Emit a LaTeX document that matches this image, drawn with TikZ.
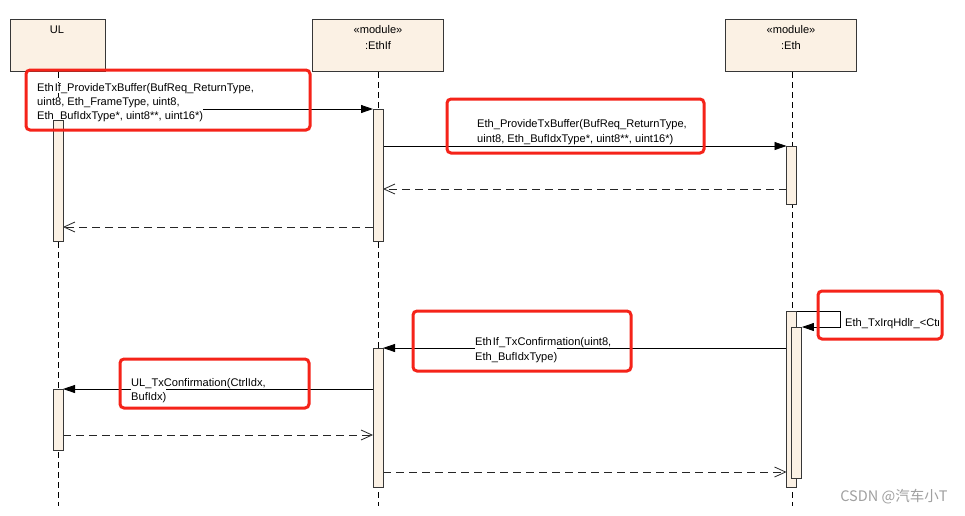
\documentclass[tikz,border=0pt]{standalone}
\usepackage{fontspec}
\setmainfont{Liberation Sans}
\newfontfamily\cjk{Noto Sans CJK SC}
\usetikzlibrary{arrows.meta}
\definecolor{headfill}{RGB}{251,241,228}
\definecolor{bordergrey}{RGB}{55,55,55}
\definecolor{annot}{RGB}{245,35,25}
\definecolor{wm}{RGB}{160,160,160}
\begin{document}
\begin{tikzpicture}[x=1pt,y=-1pt,
  every node/.style={font=\fontsize{11.1}{14}\selectfont},
  headbox/.style={draw=bordergrey,line width=1.3pt,fill=headfill,minimum height=52pt,anchor=north west,inner sep=0pt},
  act/.style={draw=bordergrey,line width=0.9pt,fill=headfill,minimum width=10pt,inner sep=0pt,anchor=north},
  life/.style={draw=black,line width=0.8pt,dash pattern=on 6pt off 4pt},
  msg/.style={draw=black,line width=0.8pt,-{Triangle[length=12pt,width=8pt]}},
  reply/.style={draw=black!85,line width=0.8pt,dash pattern=on 8pt off 5pt,-{Straight Barb[length=11pt,width=10pt,line width=0.8pt]}},
  lbl/.style={anchor=base west,inner sep=0pt,fill=white},
  lblcover/.style={anchor=base west,inner xsep=0pt,inner ysep=1.5pt,text height=11pt,text depth=2pt,fill=white},
  annotbox/.style={draw=annot,line width=3pt,rounded corners=4pt}]
\useasboundingbox[fill=white] (0,0) rectangle (965,515);

% heads
\node[headbox,minimum width=95pt] (ul) at (10,19) {};
\node[headbox,minimum width=131pt] (ethif) at (312,19) {};
\node[headbox,minimum width=131pt] (eth) at (725,19) {};
\node (ultxt) at (57,30) {UL};
\node (ethifst) at (378,30) {«module»};
\node (ethiftxt) at (378,46) {:EthIf};
\node (ethst) at (791,30) {«module»};
\node (ethtxt) at (791,46) {:Eth};

% lifelines
\coordinate (ulend) at (58,506);
\coordinate (ethifend) at (378,506);
\coordinate (ethend) at (792,506);
\draw[life] (ul.south -| ulend) -- (ulend);
\draw[life] (ethif.south -| ethifend) -- (ethifend);
\draw[life] (eth.south -| ethend) -- (ethend);

% activation anchors (invisible, for message ends)
\coordinate (ulR) at (63,0);
\coordinate (ethifL) at (373,0);
\coordinate (ethifR) at (383,0);

% messages
\draw[msg] (ulR |- 0,109) -- (ethifL |- 0,109);
\draw[msg] (ethifR |- 0,146) -- (786.5,146) coordinate (m2end);
\draw[reply] (786.5,189) coordinate (m3start) -- (ethifR |- m3start);
\draw[reply] (ethifL |- 0,227) -- (ulR |- 0,227);
\draw[msg] (791.5,348) coordinate (m5start) -- (ethifR |- m5start);
\draw[msg] (ethifL |- 0,389) -- (ulR |- 0,389);
\draw[reply] (ulR |- 0,435) -- (ethifL |- 0,435);
\draw[reply] (ethifR |- 0,472) -- (786.5,472) coordinate (m8end);

% labels
\node[lblcover] (m1c) at (37,119) {Eth\_BufIdxType*, uint8**, uint16*)};
\node[lbl] (m1b) at (37,105) {uint8, Eth\_FrameType, uint8,};
\node[lbl] (m1a) at (37,91) {Eth\hspace{1pt}If\_ProvideTxBuffer(BufReq\_ReturnType,};
\node[lbl] (m2b) at (477,142) {uint8, Eth\_BufIdxType*, uint8**, uint16*)};
\node[lbl] (m2a) at (477,127) {Eth\_ProvideTxBuffer(BufReq\_ReturnType,};
\node[lblcover] (m5b) at (475,360) {Eth\_BufIdxType)};
\node[lbl] (m5a) at (475,345) {Eth\hspace{1pt}If\_TxConfirmation(uint8,};
\node[lblcover] (m6b) at (131,400) {BufIdx)};
\node[lbl] (m6a) at (131,386) {UL\_TxConfirmation(CtrlIdx,};

% activations
\node[act,minimum height=121pt] (ula1) at (58,120) {};
\node[act,minimum height=61pt] (ula2) at (58,389) {};
\node[act,minimum height=132pt] (ethifa1) at (378,109) {};
\node[act,minimum height=139pt] (ethifa2) at (378,348) {};
\node[act,minimum height=58pt] (etha1) at (791.5,146) {};
\node[act,minimum height=176pt] (etha2) at (791.5,311) {};
\node[act,minimum height=151pt] (etha3) at (796.5,327) {};

% self message
\coordinate (selfa) at (840,311);
\coordinate (selfb) at (840,327);
\draw[msg] (etha2.east |- selfa) -- (selfa) -- (selfb) -- (etha3.east |- selfb);
\begin{scope}
\clip (842,300) rectangle (938,340);
\node[lbl] (selflbl) at (845,326) {Eth\_TxIrqHdlr\_<CtrlIdx>};
\end{scope}

% annotations
\draw[annotbox] (26,70) rectangle (310,130);
\draw[annotbox] (447,99) rectangle (704,153);
\draw[annotbox] (413,311) rectangle (631,371);
\draw[annotbox] (120,359) rectangle (309,408);
\draw[annotbox] (818,291) rectangle (942,339);

% watermark
\node[font=\cjk\fontsize{14.5}{16}\selectfont,text=wm,anchor=east] (wmark) at (951,497) {CSDN @汽车小T};
\end{tikzpicture}
\end{document}
